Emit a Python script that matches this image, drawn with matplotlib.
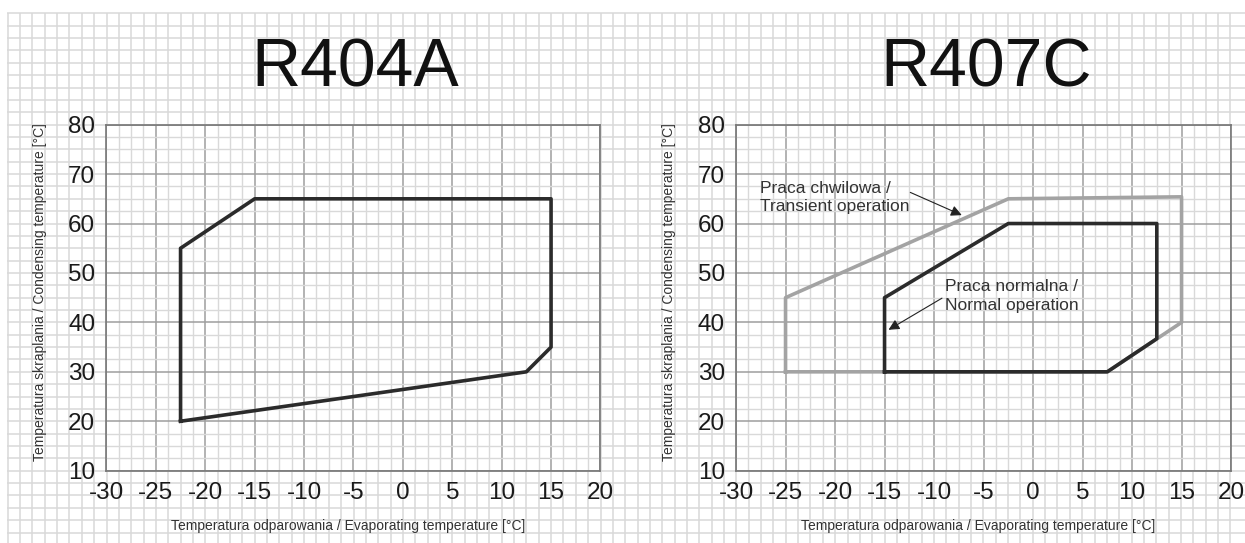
import numpy as np
import matplotlib
matplotlib.use("Agg")
import matplotlib.pyplot as plt
from matplotlib.ticker import MultipleLocator

plt.rcParams['font.family'] = ['Liberation Sans', 'DejaVu Sans']
plt.rcParams['axes.unicode_minus'] = False

# R404A envelope: evaporating / condensing temperature [degC]
r404a_evap = [-22.5, -22.5, -15, 15, 15, 12.5, -22.5]
r404a_cond = [20, 55, 65, 65, 35, 30, 20]

# R407C transient operation
r407c_trans_evap = [-25, -25, -2.5, 15, 15, 7.5, -25]
r407c_trans_cond = [30, 45, 65, 65.4, 40, 30, 30]

# R407C normal operation
r407c_norm_evap = [-15, -15, -2.5, 12.5, 12.5, 7.5, -15]
r407c_norm_cond = [30, 45, 60, 60, 36.7, 30, 30]

x_ticks = list(range(-30, 25, 5))
y_ticks = list(range(10, 90, 10))

xlabel = "Temperatura odparowania / Evaporating temperature [°C]"
ylabel = "Temperatura skraplania / Condensing temperature [°C]"

fig = plt.figure(figsize=(12.45, 5.43), dpi=100)

# graph paper behind everything (pixel coordinates)
bg = fig.add_axes([0, 0, 1, 1], zorder=-5)
bg.set_xlim(0, 1245)
bg.set_ylim(543, 0)
bg.axis('off')
xs = 106.5 + 12.35 * np.arange(-8, 92)
xs = xs[(xs >= 7) & (xs <= 1245)]
ys = 470.7 - 12.36 * np.arange(-6, 40)
ys = ys[(ys >= 12) & (ys <= 543)]
bg.vlines(xs, 12.5, 543, color='#d9d9d9', lw=1.1)
bg.hlines(ys, 7, 1245, color='#d9d9d9', lw=1.1)


def setup(ax):
    ax.set_xlim(-30, 20)
    ax.set_ylim(10, 80)
    ax.set_xticks(x_ticks)
    ax.set_yticks(y_ticks)
    ax.xaxis.set_minor_locator(MultipleLocator(1.25))
    ax.yaxis.set_minor_locator(MultipleLocator(2.5))
    ax.set_axisbelow(True)
    ax.grid(which='major', color='#9e9e9e', lw=1.1)
    ax.grid(which='minor', color='#d9d9d9', lw=1.0)
    ax.tick_params(which='both', length=0, labelsize=17.5, pad=8, colors='#1a1a1a')
    for s in ax.spines.values():
        s.set_color('#777777')
        s.set_linewidth(1.2)
    ax.set_xlabel(xlabel, fontsize=10, color='#333333')
    ax.xaxis.set_label_coords(0.49, -0.14)
    ax.set_ylabel(ylabel, fontsize=10, color='#333333')
    ax.yaxis.set_label_coords(-0.121, 0.515)


ax1 = fig.add_axes([0.0855, 0.1332, 0.3968, 0.6372])
ax2 = fig.add_axes([0.5912, 0.1332, 0.3976, 0.6372])
setup(ax1)
setup(ax2)

ax1.plot(r404a_evap, r404a_cond, color='#2b2b2b', lw=2.6)

ax2.plot(r407c_trans_evap, r407c_trans_cond, color='#a3a3a3', lw=2.6)
ax2.plot(r407c_norm_evap, r407c_norm_cond, color='#2b2b2b', lw=2.6)

ax2.text(-27.6, 65.3, "Praca chwilowa /\nTransient operation", ha='left', va='center',
         fontsize=12.5, color='#333333', linespacing=1.3)
ax2.text(-8.9, 45.3, "Praca normalna /\nNormal operation", ha='left', va='center',
         fontsize=12.5, color='#333333', linespacing=1.3)
arrow = dict(arrowstyle='-|>', color='#222222', lw=0.8, mutation_scale=16,
             shrinkA=0, shrinkB=0)
ax2.annotate('', xy=(-7.2, 61.7), xytext=(-12.4, 66.3), arrowprops=arrow)
ax2.annotate('', xy=(-14.6, 38.5), xytext=(-9.2, 44.9), arrowprops=arrow)

fig.text(0.285, 0.8398, "R404A", fontsize=49, ha='center', va='baseline', color='#111111')
fig.text(0.7924, 0.8398, "R407C", fontsize=49, ha='center', va='baseline', color='#111111')

fig.savefig("out.png", dpi=100, facecolor='white')
